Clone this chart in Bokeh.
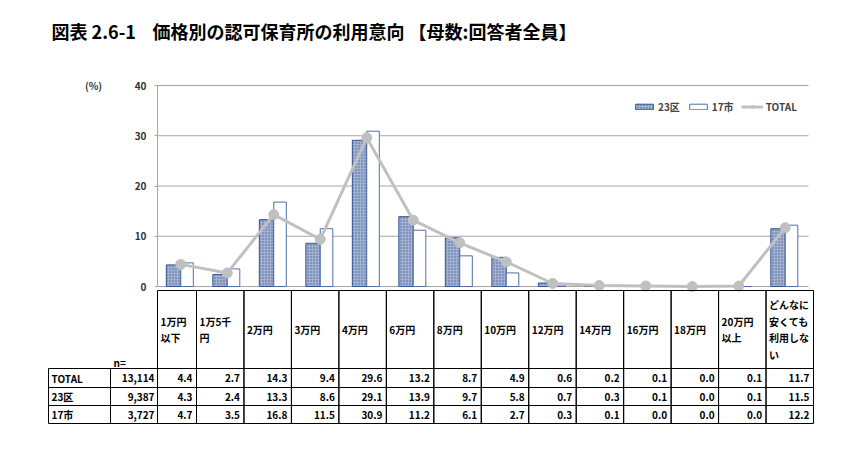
from bokeh.plotting import figure
from bokeh.models import Range1d, FixedTicker, Legend, LegendItem, ColumnDataSource
from bokeh.transform import dodge
from bokeh.embed import file_html
from bokeh.resources import INLINE
from bokeh.core.properties import value

# ---------------- data ----------------
title_parts = ["図表 2.6-1", "価格別の認可保育所の利用意向 【母数:回答者全員】"]
categories = ["1万円\n以下", "1万5千\n円", "2万円", "3万円", "4万円", "6万円", "8万円",
              "10万円", "12万円", "14万円", "16万円", "18万円", "20万円\n以上",
              "どんなに\n安くても\n利用しな\nい"]
total = [4.4, 2.7, 14.3, 9.4, 29.6, 13.2, 8.7, 4.9, 0.6, 0.2, 0.1, 0.0, 0.1, 11.7]
ku23 = [4.3, 2.4, 13.3, 8.6, 29.1, 13.9, 9.7, 5.8, 0.7, 0.3, 0.1, 0.0, 0.1, 11.5]
shi17 = [4.7, 3.5, 16.8, 11.5, 30.9, 11.2, 6.1, 2.7, 0.3, 0.1, 0.0, 0.0, 0.0, 12.2]
row_names = ["TOTAL", "23区", "17市"]
row_n = [13114, 9387, 3727]
y_ticks = [0, 10, 20, 30, 40]
unit_label = "(%)"

FONT = "Noto Sans CJK JP"
C23_FILL = "#a3b2d1"
C23_HATCH = "#45619a"
C23_LINE = "#34558f"
C17_LINE = "#4f6fa8"
CTOT = "#c0c0c0"
GRID = "#a6a6a6"

ncat = len(categories)
xpos = [i + 0.5 for i in range(ncat)]
src = ColumnDataSource(dict(x=xpos, cat=categories, ku23=ku23, shi17=shi17, total=total))

# one figure: chart in category/percent units, table in its own pixel-like ranges
p = figure(x_range=Range1d(-2.5161, 14.129), y_range=Range1d(-27.66, 54.925),
           width=840, height=430, output_backend="svg", toolbar_location=None,
           x_axis_location=None, min_border_left=40, min_border_right=26,
           min_border_top=10, min_border_bottom=5, outline_line_color=None)
p.extra_x_ranges = {"tx": Range1d(-8, 766)}
p.extra_y_ranges = {"ty": Range1d(135, -280)}
p.xgrid.visible = False
p.ygrid.visible = False

ax = p.yaxis[0]
ax.fixed_location = 0
ax.ticker = FixedTicker(ticks=y_ticks)
ax.bounds = (0, 40)
ax.axis_line_color = GRID
ax.major_tick_line_color = GRID
ax.major_tick_out = 3
ax.major_tick_in = 0
ax.minor_tick_line_color = None
ax.major_label_standoff = 8
ax.major_label_text_font = FONT
ax.major_label_text_font_size = "10px"
ax.major_label_text_font_style = "bold"
ax.major_label_text_color = "#333333"

# grid lines across the category area only
p.segment(x0=[0] * len(y_ticks), x1=[ncat] * len(y_ticks), y0=y_ticks, y1=y_ticks,
          line_color=GRID, line_width=1)

r1 = p.vbar(x=dodge("x", -0.155), top="ku23", bottom=0, width=0.31, source=src,
            fill_color=C23_FILL, line_color=C23_LINE, line_width=1,
            hatch_pattern="dot", hatch_color=C23_HATCH, hatch_scale=3, hatch_weight=1)
r2 = p.vbar(x=dodge("x", 0.135), top="shi17", bottom=0, width=0.27, source=src,
            fill_color="white", line_color=C17_LINE, line_width=1)
rl = p.line(x="x", y="total", source=src, line_color=CTOT, line_width=3)
rs = p.scatter(x="x", y="total", source=src, size=10, fill_color=CTOT, line_color=CTOT)

legend = Legend(items=[LegendItem(label="23区", renderers=[r1]),
                       LegendItem(label="17市", renderers=[r2]),
                       LegendItem(label="TOTAL", renderers=[rl, rs])],
                orientation="horizontal", location=(593, 311),
                glyph_width=22, glyph_height=7, label_standoff=3, spacing=7,
                padding=0, margin=0, border_line_color=None,
                background_fill_alpha=0, label_text_font=FONT,
                label_text_font_size="10px", label_text_font_style="bold",
                label_height=7)
p.add_layout(legend)

# title and unit label (inside the frame, data units)
p.text(x=[-2.2796, -0.1075], y=[50.75, 50.75], text=title_parts, text_font=value(FONT),
       text_font_size="18px", text_font_style="bold", text_color="black",
       text_align="left", text_baseline="middle")
p.text(x=[-1.376], y=[40], text=[unit_label], text_font=value(FONT),
       text_font_size="10px", text_font_style="bold", text_color="#333333",
       text_align="center", text_baseline="middle")

# ---------------- table ----------------
label_w, n_w, first_w = 62, 47, 39
cat_w = (765 - label_w - n_w - first_w) / 13
edges = [0, label_w, label_w + n_w]
xx = label_w + n_w
for w in [first_w] + [cat_w] * 13:
    xx += w
    edges.append(xx)
row_edges = [0, 78, 97, 115, 133]

hl, hr, ht, hb = [], [], [], []
for j in range(ncat):
    hl.append(edges[j + 2]); hr.append(edges[j + 3])
    ht.append(row_edges[0]); hb.append(row_edges[1])
for i in range(len(row_names)):
    for j in range(len(edges) - 1):
        hl.append(edges[j]); hr.append(edges[j + 1])
        ht.append(row_edges[i + 1]); hb.append(row_edges[i + 2])
p.quad(left=hl, right=hr, top=ht, bottom=hb, fill_color=None, line_color="black",
       line_width=1, x_range_name="tx", y_range_name="ty")

txt_kw = dict(text_font=value(FONT), text_font_size="10px", text_font_style="bold",
              text_color="black", text_baseline="middle",
              x_range_name="tx", y_range_name="ty")
p.text(x=[edges[j + 2] + 3 for j in range(ncat)],
       y=[(row_edges[0] + row_edges[1]) / 2] * ncat,
       text=categories, text_align="left", text_line_height=1.1, **txt_kw)
p.text(x=[edges[1] + 3], y=[72], text=["n="], text_align="left", **txt_kw)

row_series = [total, ku23, shi17]
ry = [(row_edges[i + 1] + row_edges[i + 2]) / 2 for i in range(len(row_names))]
p.text(x=[edges[0] + 3] * len(row_names), y=ry, text=row_names, text_align="left", **txt_kw)
p.text(x=[edges[2] - 3] * len(row_names), y=ry, text=[f"{n:,}" for n in row_n],
       text_align="right", **txt_kw)
vx, vy, vt = [], [], []
for i, ser in enumerate(row_series):
    for j, v in enumerate(ser):
        vx.append(edges[j + 3] - 4); vy.append(ry[i]); vt.append(f"{v:.1f}")
p.text(x=vx, y=vy, text=vt, text_align="right", **txt_kw)

open("out.html", "w").write(file_html(p, INLINE))
